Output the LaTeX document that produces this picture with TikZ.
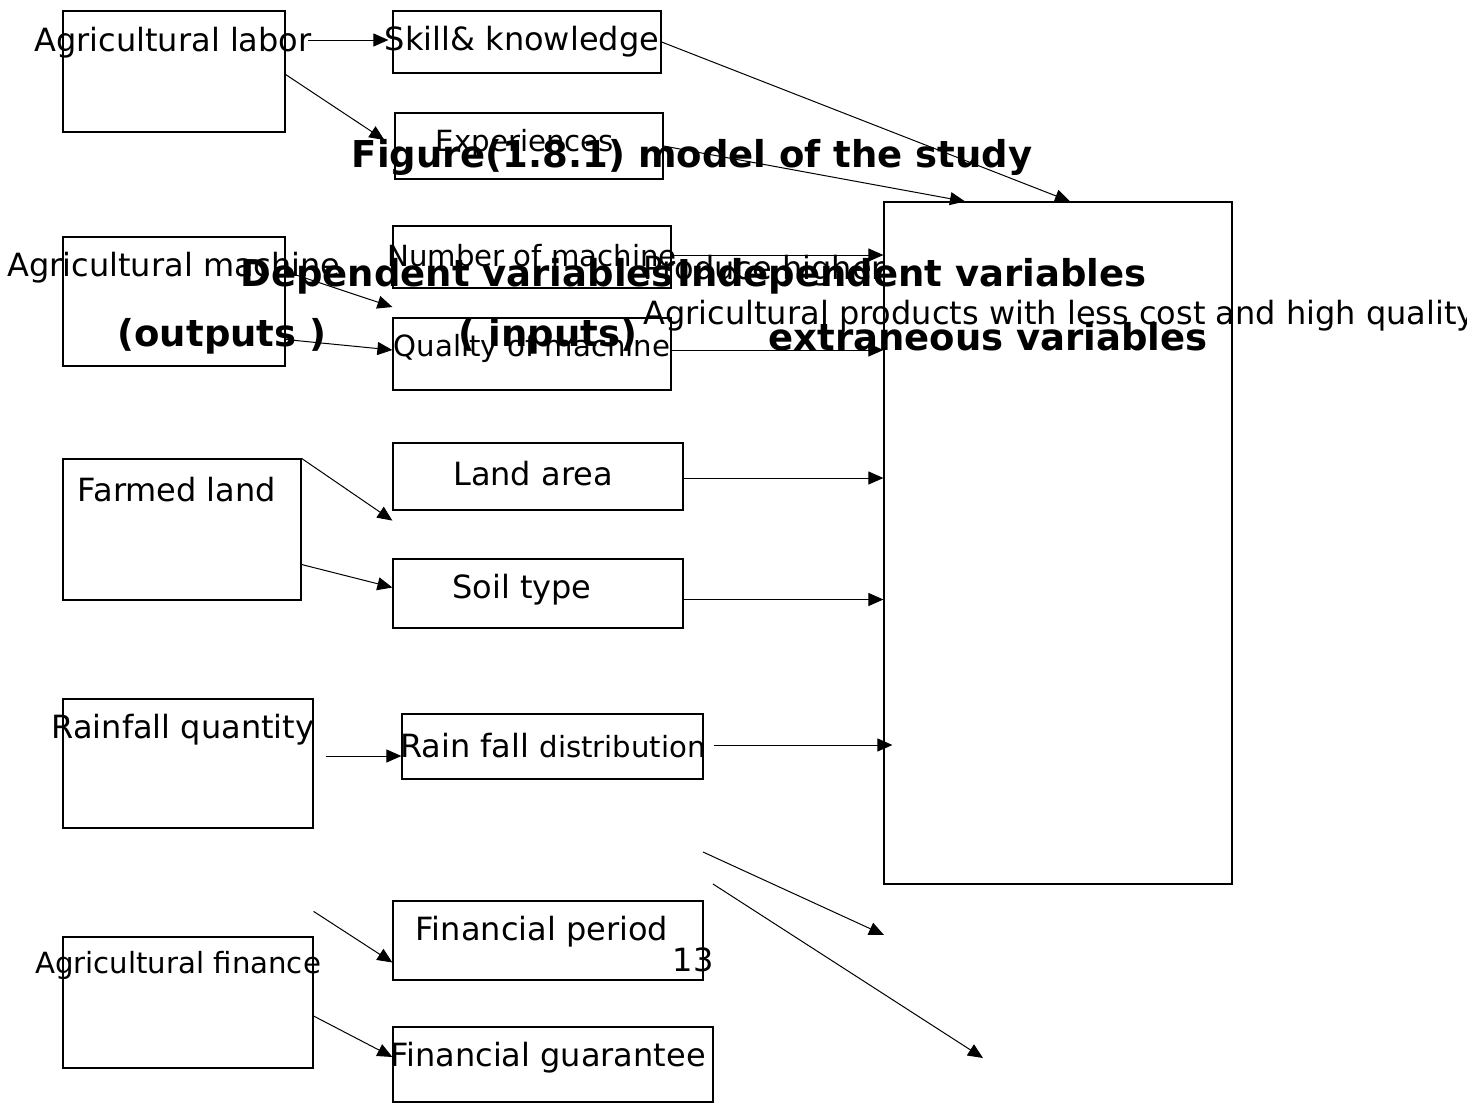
\documentclass[tikz,border=0pt]{standalone}
\usepackage{fontspec}
\setmainfont{DejaVu Sans}
\usetikzlibrary{arrows.meta,fit}
\tikzset{
	box/.style={draw,line width=0.6pt,inner sep=0pt},
	lbl/.style={inner sep=0pt,yshift=-1.5pt,font=\fontsize{16}{19}\selectfont},
	slbl/.style={inner sep=0pt,yshift=-1.5pt,font=\fontsize{14.6}{17}\selectfont},
	head/.style={inner sep=0pt,yshift=-1.2pt,font=\fontsize{18.5}{22}\selectfont\bfseries},
	arr/.style={-{Triangle[length=7.5pt,width=6.5pt]},line width=0.5pt}
}
\begin{document}
\begin{tikzpicture}[x=0.5pt,y=-0.5pt]
	\useasboundingbox (0,0) rectangle (1467,1103);
	% boxes of the left column
	\node[box,fit={(63,11) (285,132)}] (labor) {};
	\node[box,fit={(63,237) (285,366)}] (machine) {};
	\node[box,fit={(63,459) (301,600)}] (farmed) {};
	\node[box,fit={(63,699) (313,828)}] (rainfall) {};
	\node[box,fit={(63,937) (313,1068)}] (finance) {};
	% boxes of the middle column
	\node[box,fit={(393,11) (661,73)}] (skill) {};
	\node[box,fit={(395,113) (663,179)}] (exper) {};
	\node[box,fit={(393,226) (671,288)}] (number) {};
	\node[box,fit={(393,318) (671,390)}] (quality) {};
	\node[box,fit={(393,443) (683,510)}] (land) {};
	\node[box,fit={(393,559) (683,628)}] (soil) {};
	\node[box,fit={(402,714) (703,779)}] (raindist) {};
	\node[box,fit={(393,901) (703,980)}] (finper) {};
	\node[box,fit={(393,1027) (713,1102)}] (guarantee) {};
	% big box on the right
	\node[box,fit={(884,202) (1232,884)}] (big) {};
	% texts
	\node[lbl] (laborT) at (173,40) {Agricultural labor};
	\node[lbl] (machineT) at (174,265) {Agricultural machine};
	\node[lbl] (farmedT) at (177,487) {Farmed land};
	\node[lbl] (rainfallT) at (183,727) {Rainfall quantity};
	\node[slbl] (financeT) at (178,962) {Agricultural finance};
	\node[lbl] (skillT) at (522,39) {Skill\& knowledge};
	\node[slbl] (experT) at (525,140) {Experiences};
	\node[slbl] (numberT) at (532,253) {Number of machine};
	\node[slbl] (qualityT) at (532,345) {Quality of machine};
	\node[lbl] (landT) at (533,471) {Land area};
	\node[lbl] (soilT) at (522,587) {Soil type};
	\node[lbl] (raindistT) at (553,743) {Rain fall {\fontsize{14.6}{17}\selectfont distribution}};
	\node[lbl] (finperT) at (542,929) {Financial period};
	\node[lbl] (guaranteeT) at (548,1055) {Financial guarantee};
	\node[lbl] (pagenum) at (693,957) {13};
	\node[lbl,anchor=west] (produce) at (643,268) {Produce higher};
	\node[lbl,anchor=west] (products) at (643,313) {Agricultural products with less cost and high quality};
	% headings
	\node[head] (title) at (692,155) {Figure(1.8.1) model of the study};
	\node[head,anchor=west] (depvar) at (240,274) {Dependent variables};
	\node[head,anchor=east] (indvar) at (1147,274) {Independent variables};
	\node[head] (outputs) at (222,334) {(outputs )};
	\node[head] (inputs) at (548,334) {( inputs)};
	\node[head] (extvar) at (988,334) {extraneous variables};
	% arrows
	\draw[arr] ([shift={(-4,-3)}]laborT.east) -- ([shift={(-4,-3)}]laborT.east -| skill.west);
	\draw[arr] ([shift={(0,3)}]labor.east) -- ([shift={(-10,-6)}]exper.west);
	\draw[arr] (skill.east) -- ([shift={(12,0)}]big.north);
	\draw[arr] (exper.east) -- ([shift={(-93,0)}]big.north);
	\draw[arr] ([shift={(0,-2)}]number.east) -- ([shift={(0,-2)}]number.east -| big.west);
	\draw[arr] ([shift={(0,-30)}]machine.east) -- ([shift={(0,-47)}]quality.west);
	\draw[arr] ([shift={(0,38)}]machine.east) -- ([shift={(0,-4)}]quality.west);
	\draw[arr] ([shift={(0,-4)}]quality.east) -- ([shift={(0,-4)}]quality.east -| big.west);
	\draw[arr] (farmed.north east) -- ([shift={(0,10)}]land.south west);
	\draw[arr] ([shift={(0,35)}]farmed.east) -- ([shift={(0,-6)}]soil.west);
	\draw[arr] ([shift={(0,1.5)}]land.east) -- ([shift={(0,1.5)}]land.east -| big.west);
	\draw[arr] ([shift={(0,6)}]soil.east) -- ([shift={(0,6)}]soil.east -| big.west);
	\draw[arr] ([shift={(12,-7.5)}]rainfall.east) -- ([shift={(0,9.5)}]raindist.west);
	\draw[arr] ([shift={(10,-1.5)}]raindist.east) -- ([shift={(9,-1.5)}]raindist.east -| big.west);
	\coordinate (freeA) at (703,852);
	\coordinate (freeB) at (884,935);
	\coordinate (freeC) at (713,884);
	\coordinate (freeD) at (983,1058);
	\draw[arr] (freeA) -- (freeB);
	\draw[arr] (freeC) -- (freeD);
	\draw[arr] ([shift={(0,-25)}]finance.north east) -- ([shift={(0,22)}]finper.west);
	\draw[arr] ([shift={(0,13.5)}]finance.east) -- ([shift={(0,-7.5)}]guarantee.west);
\end{tikzpicture}
\end{document}
